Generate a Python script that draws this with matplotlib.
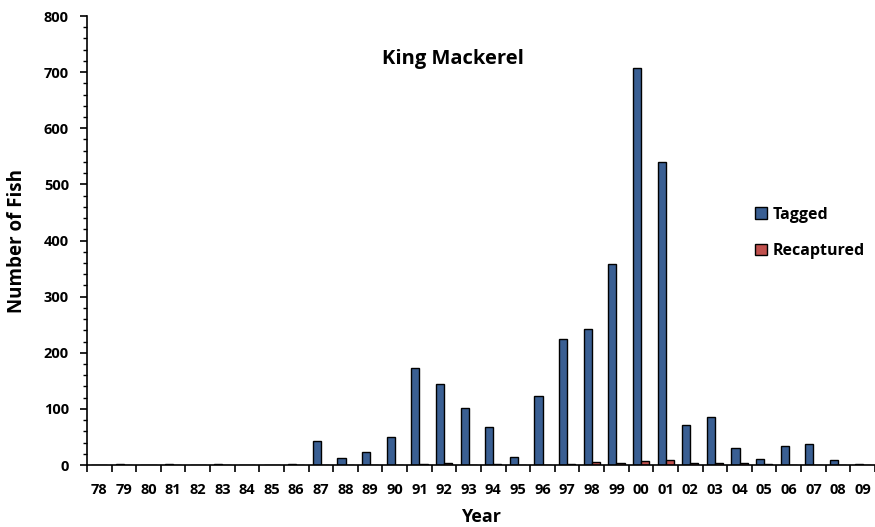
import numpy as np
import matplotlib.pyplot as plt
from matplotlib.ticker import MultipleLocator, FixedLocator

years = ["78", "79", "80", "81", "82", "83", "84", "85", "86", "87", "88", "89",
         "90", "91", "92", "93", "94", "95", "96", "97", "98", "99", "00", "01",
         "02", "03", "04", "05", "06", "07", "08", "09"]
tagged = [0, 1, 0, 1, 0, 1, 0, 0, 2, 43, 12, 23,
          50, 172, 145, 101, 68, 14, 123, 224, 242, 358, 707, 540,
          71, 85, 30, 11, 34, 37, 9, 2]
recaptured = [0, 0, 0, 0, 0, 0, 0, 0, 0, 0, 0, 0,
              0, 1, 3, 0, 1, 0, 0, 2, 6, 4, 8, 9,
              4, 4, 3, 1, 0, 0, 0, 0]

plt.rcParams['font.family'] = ['Open Sans', 'DejaVu Sans']
plt.rcParams['font.weight'] = 'bold'

fig = plt.figure(figsize=(8.75, 5.27), dpi=100)
ax = fig.add_axes([0.0994, 0.1176, 0.9006, 0.852])

x = np.arange(len(years))
w = 0.33
ax.bar(x - w / 2, tagged, w, color="#3A5F93", edgecolor="black", linewidth=1, label="Tagged")
ax.bar(x + w / 2, recaptured, w, color="#C0504D", edgecolor="black", linewidth=1, label="Recaptured")

ax.set_xlim(-0.5, len(years) - 0.5)
ax.set_ylim(0, 800)
ax.spines['top'].set_visible(False)
ax.spines['right'].set_visible(False)
ax.spines['left'].set_linewidth(1.2)
ax.spines['bottom'].set_linewidth(1.2)

ax.set_xticks(x)
ax.set_xticklabels(years, fontsize=10.5, fontweight='bold')
ax.xaxis.set_minor_locator(FixedLocator(np.arange(-0.5, len(years), 1)))
ax.tick_params(axis='x', which='major', length=0, pad=13)
ax.tick_params(axis='x', which='minor', length=5, width=1.2, direction='out')

ax.yaxis.set_major_locator(MultipleLocator(100))
ax.yaxis.set_minor_locator(MultipleLocator(20))
ax.tick_params(axis='y', which='major', length=5, width=1.2, labelsize=10.5, pad=8)
ax.tick_params(axis='y', which='minor', length=3, width=1)
for lab in ax.get_yticklabels():
    lab.set_fontweight('bold')

ax.set_xlabel("Year", fontsize=13, fontweight='bold', labelpad=8)
ax.set_ylabel("Number of Fish", fontsize=13.5, fontweight='bold', labelpad=12)
ax.text(0.465, 0.905, "King Mackerel", transform=ax.transAxes, ha='center', va='center',
        fontsize=14.5, fontweight='bold')

leg = ax.legend(loc='center left', bbox_to_anchor=(0.83, 0.517), frameon=False,
                fontsize=11.5, handlelength=0.7, handleheight=0.7, handletextpad=0.4,
                labelspacing=1.3)
for t in leg.get_texts():
    t.set_fontweight('bold')

fig.savefig("out.png", dpi=100)
